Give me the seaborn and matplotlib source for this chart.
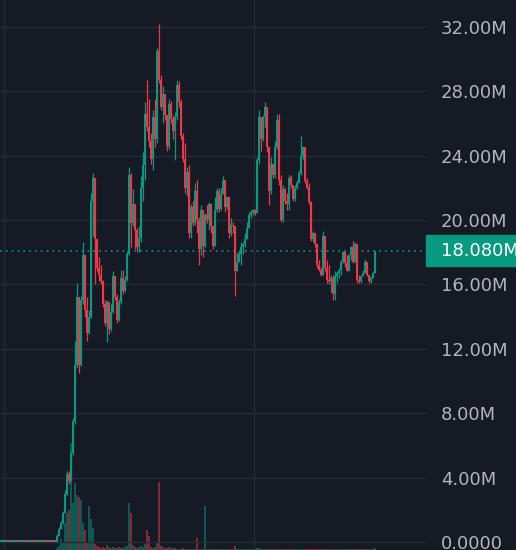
import numpy as np
import matplotlib
matplotlib.use("Agg")
import matplotlib.pyplot as plt
import matplotlib.patches as mpatches
from matplotlib.transforms import blended_transform_factory
import seaborn as sns

# prices in millions; flat stretch before trading starts
flat_close = [0.00, 0.02, 0.02, 0.00, 0.02, 0.00, 0.00, 0.02, 0.00, 0.02,
              0.02, 0.00, 0.02, 0.00, 0.02, 0.02, 0.00, 0.02, 0.00, 0.00,
              0.02, 0.00, 0.02, 0.00, 0.02, 0.00, 0.02, 0.00]

close = [0.4, 0.8, 1.2, 1.8, 3.0, 4.2, 3.8, 5.5, 7.5, 11.0,
         15.2, 11.0, 15.0, 17.8, 14.4, 13.0, 14.0, 21.2, 22.6, 18.8,
         17.0, 16.6, 16.2, 14.8, 13.6, 14.9, 13.2, 14.3, 16.5, 15.2,
         13.8, 14.9, 16.4, 15.6, 16.3, 17.9, 22.8, 19.8, 21.0, 19.4,
         18.3, 18.9, 22.0, 23.4, 26.6, 25.8, 24.9, 23.8, 26.4, 25.0,
         30.5, 28.7, 27.0, 27.8, 26.5, 24.6, 27.2, 26.3, 25.5, 26.4,
         28.4, 27.3, 25.2, 23.8, 22.0, 23.0, 19.2, 20.8, 19.8, 21.8,
         20.0, 18.2, 20.6, 18.4, 20.3, 20.0, 21.0, 19.6, 18.4, 20.6,
         21.8, 20.7, 21.6, 22.5, 20.8, 21.4, 19.2, 19.7, 19.6, 16.8,
         17.4, 17.9, 18.3, 18.5, 18.8, 19.5, 20.3, 20.5, 20.6, 20.4,
         23.7, 26.4, 25.0, 26.4, 27.0, 24.5, 21.8, 23.5, 22.8, 24.5,
         26.2, 22.5, 20.0, 21.9, 21.2, 21.0, 22.6, 22.2, 21.3, 22.0,
         22.3, 22.9, 24.0, 24.5, 22.4, 22.0, 21.1, 18.8, 19.2, 18.5,
         17.2, 16.9, 16.6, 19.0, 17.0, 16.3, 16.2, 16.4, 15.4, 16.5,
         16.7, 16.9, 17.4, 18.0, 17.3, 16.8, 17.8, 18.3, 17.4, 18.5,
         16.3, 16.2, 16.5, 16.7, 17.4, 16.6, 16.2, 16.4, 16.7, 18.08]

high = [0.5, 0.9, 1.3, 1.9, 3.2, 4.4, 4.4, 5.6, 7.7, 12.5,
        16.1, 15.2, 15.3, 18.6, 17.8, 15.2, 14.4, 21.7, 22.9, 22.6,
        18.8, 17.7, 17.2, 16.3, 15.0, 15.0, 14.6, 14.8, 16.8, 16.5,
        15.4, 15.1, 16.9, 16.9, 16.5, 18.1, 23.3, 22.9, 21.9, 20.6,
        19.5, 19.6, 22.7, 24.2, 27.3, 28.7, 27.5, 25.4, 26.8, 27.5,
        30.7, 32.2, 29.0, 28.3, 27.6, 26.5, 27.5, 27.4, 26.5, 26.7,
        28.7, 28.6, 27.5, 25.4, 24.8, 23.3, 23.4, 21.0, 21.2, 22.3,
        22.5, 20.2, 20.9, 20.6, 20.4, 20.9, 21.1, 21.0, 19.6, 21.4,
        22.0, 22.0, 22.0, 22.7, 22.5, 21.5, 21.3, 20.1, 19.9, 19.6,
        18.0, 18.1, 18.6, 18.6, 19.2, 19.9, 20.5, 20.6, 20.7, 20.7,
        23.9, 26.8, 26.4, 26.5, 27.3, 26.8, 24.5, 23.9, 23.5, 24.9,
        26.6, 26.6, 22.8, 22.2, 22.0, 21.7, 22.8, 22.8, 22.2, 22.2,
        22.5, 23.1, 25.2, 24.6, 24.5, 22.6, 22.3, 21.2, 19.3, 19.2,
        18.3, 17.5, 17.1, 19.3, 19.0, 17.5, 17.2, 16.6, 16.6, 16.8,
        16.8, 17.0, 17.5, 18.1, 18.0, 17.8, 17.9, 18.4, 18.7, 18.6,
        18.4, 16.6, 16.6, 16.9, 17.6, 17.4, 16.6, 16.5, 16.8, 18.1]

low = [0.0, 0.4, 0.8, 1.1, 1.8, 2.9, 3.6, 3.8, 5.4, 7.3,
       10.8, 10.5, 10.9, 14.8, 14.0, 12.5, 12.9, 13.9, 19.0, 16.0,
       16.8, 16.2, 16.0, 14.6, 13.4, 12.4, 12.9, 13.1, 14.2, 15.0,
       13.6, 13.7, 14.8, 15.4, 15.5, 16.2, 17.8, 18.3, 19.6, 18.2,
       18.0, 18.0, 18.6, 21.2, 22.5, 25.5, 24.5, 23.5, 23.1, 24.5,
       24.8, 28.5, 26.8, 26.0, 26.2, 24.3, 24.4, 26.0, 25.0, 23.7,
       26.2, 27.0, 25.0, 23.6, 21.7, 21.5, 18.9, 18.9, 19.6, 19.7,
       19.2, 17.2, 17.8, 17.7, 18.3, 19.8, 19.4, 19.2, 18.2, 18.4,
       20.5, 20.5, 20.6, 21.6, 20.5, 20.7, 18.9, 19.0, 19.2, 15.3,
       16.9, 17.4, 17.2, 17.9, 18.3, 18.8, 19.5, 20.1, 20.3, 20.3,
       20.4, 23.5, 24.3, 24.9, 25.8, 24.2, 20.9, 21.6, 22.6, 22.6,
       24.4, 22.2, 19.9, 19.9, 21.0, 20.6, 20.6, 22.0, 21.2, 21.2,
       21.9, 22.3, 22.8, 23.8, 22.3, 21.9, 21.0, 18.7, 18.6, 18.3,
       17.0, 16.8, 16.5, 16.6, 16.8, 16.1, 16.0, 15.5, 15.0, 15.0,
       16.1, 16.4, 16.6, 17.3, 17.1, 16.8, 16.8, 17.5, 17.3, 17.4,
       16.1, 16.1, 16.1, 16.5, 16.7, 16.5, 16.1, 16.1, 16.4, 16.7]

volume = [2, 4, 11, 8, 27, 37, 40, 107, 47, 67,
          55, 53, 50, 27, 20, 8, 44, 31, 22, 6,
          4, 3, 2, 3, 2, 5, 3, 2, 3, 2,
          2, 3, 2, 2, 3, 4, 47, 37, 5, 3,
          2, 3, 4, 3, 6, 20, 14, 3, 2, 3,
          8, 68, 4, 3, 2, 2, 3, 2, 2, 2,
          1, 1, 1, 2, 1, 1, 1, 1, 1, 1,
          12, 1, 1, 1, 44, 1, 1, 1, 1, 1,
          1, 1, 1, 1, 1, 1, 1, 1, 1, 4,
          1, 1, 1, 1, 1, 1, 1, 1, 1, 1,
          2, 2, 1, 1, 1, 1, 1, 1, 1, 1,
          1, 1, 1, 1, 1, 1, 1, 1, 1, 1,
          1, 1, 1, 1, 1, 1, 1, 1, 1, 1,
          1, 1, 1, 1, 1, 1, 1, 1, 1, 1,
          1, 1, 1, 1, 1, 1, 1, 1, 1, 1,
          1, 1, 1, 1, 1, 1, 1, 1, 1, 2]

last_price = 18.08
price_ticks = [0, 4, 8, 12, 16, 20, 24, 28, 32]
date_lines = [1.5, 126.5]

BG = '#161a25'
GRID = '#262a35'
UP = '#089981'
DOWN = '#f23645'
TXT = '#b2b5be'

sns.set_theme(style="dark", rc={'axes.facecolor': BG, 'figure.facecolor': BG})
plt.rcParams['font.family'] = ['DejaVu Sans']

# full ohlc series
c = np.array(flat_close + close)
o = np.concatenate([[c[0]], c[:-1]])
h = np.concatenate([np.maximum(flat_close, 0.0), high])
l = np.concatenate([np.minimum(flat_close, 0.0), low])
h = np.maximum(h, np.maximum(o, c))
l = np.minimum(l, np.minimum(o, c))
v = np.array([0] * len(flat_close) + volume)
x = np.arange(len(c))
cols = np.where(c >= o, UP, DOWN)

fig = plt.figure(figsize=(5.16, 5.5), dpi=100)
ax = fig.add_axes([0, 0, 426 / 516, 1])
vax = ax.twinx()

# volume underneath
vax.bar(x, v, width=0.7, color=cols, alpha=0.5, linewidth=0)
vax.set_ylim(0, max(volume) * 550 / 107)
vax.set_yticks([])
vax.tick_params(right=False, labelright=False)
vax.grid(False)
for s in vax.spines.values():
    s.set_visible(False)

ax.set_zorder(vax.get_zorder() + 1)
ax.patch.set_visible(False)
ax.set_axisbelow(True)

body_lo = np.minimum(o, c)
body_h = np.maximum(np.abs(c - o), 0.1)
ax.vlines(x, l, h, colors=cols, linewidth=0.9, zorder=3)
ax.bar(x, body_h, bottom=body_lo, width=0.7, color=cols, linewidth=0, zorder=4)

ax.axhline(last_price, color=UP, linestyle=(0, (1, 2.5)), linewidth=1.2, zorder=2)

ax.set_xlim(-0.5, 212.5)
ax.set_ylim(-0.5, 33.66)
ax.set_xticks(date_lines)
ax.set_xticklabels([])
ax.set_yticks(price_ticks)
ax.set_yticklabels(['0.0000' if t == 0 else f'{t:.2f}M' for t in price_ticks])
ax.yaxis.tick_right()
ax.tick_params(axis='y', length=0, pad=10.6, labelsize=13, labelcolor=TXT)
ax.tick_params(axis='x', length=0)
ax.grid(True, color=GRID, linewidth=1)
vax.set_facecolor(BG)
for s in ax.spines.values():
    s.set_visible(False)

# last price tag on the scale
trans = blended_transform_factory(ax.transAxes, ax.transData)
ax.add_patch(mpatches.Rectangle((1.0, last_price - 0.96), 90 / 426, 1.92,
                                transform=trans, clip_on=False, color=UP, zorder=5))
ax.text(1.0 + 15 / 426, last_price, f'{last_price:.3f}M', transform=trans,
        va='center', ha='left', color='white', fontsize=13, clip_on=False, zorder=6)

fig.savefig('out.png', dpi=100, facecolor=BG)
